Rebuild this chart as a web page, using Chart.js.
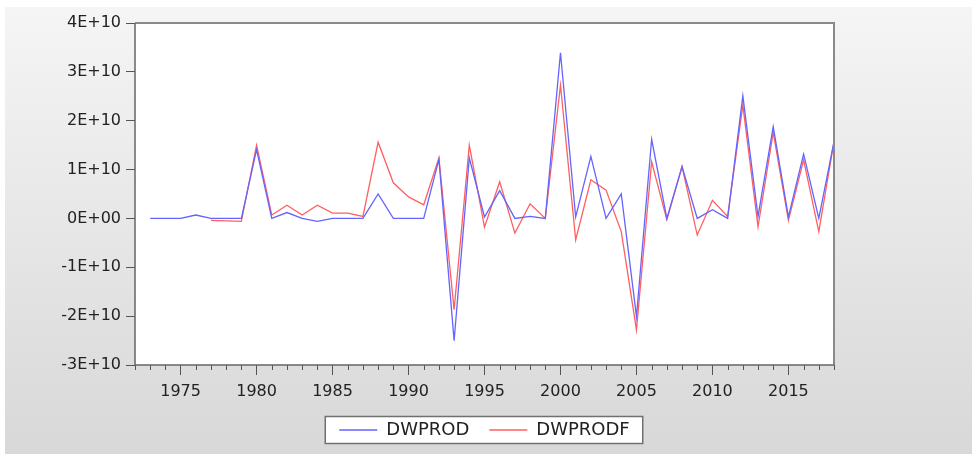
<!DOCTYPE html>
<html>
<head>
<meta charset="utf-8">
<title>DWPROD vs DWPRODF</title>
<script src="https://cdn.jsdelivr.net/npm/chart.js@4.4.1/dist/chart.umd.min.js"></script>
<style>
  html, body { margin: 0; padding: 0; background: #fff; }
  canvas { display: block; }
</style>
</head>
<body>
<canvas id="chart" width="972" height="454"></canvas>
<script>
// -------------------------------------------------------------
// Data (values in units of 1E+10)
// -------------------------------------------------------------
const years = [
  1973, 1974, 1975, 1976, 1977, 1978, 1979, 1980, 1981, 1982,
  1983, 1984, 1985, 1986, 1987, 1988, 1989, 1990, 1991, 1992,
  1993, 1994, 1995, 1996, 1997, 1998, 1999, 2000, 2001, 2002,
  2003, 2004, 2005, 2006, 2007, 2008, 2009, 2010, 2011, 2012,
  2013, 2014, 2015, 2016, 2017, 2018
];

const dwprod = [
  0, 0, 0, 0.07, 0, 0, 0, 1.41, 0, 0.12,
  0, -0.06, 0, 0, 0, 0.50, 0, 0, 0, 1.21,
  -2.50, 1.24, 0.03, 0.57, 0, 0.04, 0, 3.39, 0.03, 1.27,
  0, 0.50, -2.01, 1.62, 0, 1.06, 0, 0.18, 0, 2.51,
  0.04, 1.88, 0.03, 1.32, 0, 1.57
];

const dwprodf = [
  null, null, null, null, -0.04, -0.05, -0.06, 1.50, 0.07, 0.27,
  0.07, 0.27, 0.11, 0.11, 0.04, 1.56, 0.73, 0.44, 0.28, 1.24,
  -1.87, 1.50, -0.18, 0.75, -0.30, 0.30, 0, 2.73, -0.44, 0.79,
  0.58, -0.27, -2.28, 1.16, -0.03, 1.06, -0.34, 0.37, 0.04, 2.32,
  -0.17, 1.76, -0.04, 1.20, -0.27, 1.57
];

const xTickLabels = [1975, 1980, 1985, 1990, 1995, 2000, 2005, 2010, 2015];
const yTickValues = [-3, -2, -1, 0, 1, 2, 3, 4];
const yTickLabels = ['-3E+10', '-2E+10', '-1E+10', '0E+00', '1E+10', '2E+10', '3E+10', '4E+10'];

const toPoints = (values) => years
  .map((yr, i) => ({ x: yr, y: values[i] }))
  .filter((p) => p.y !== null);

const tickFont = { family: 'DejaVu Sans', size: 16 };

// -------------------------------------------------------------
// Background panel, plot frame, legend box, minor year ticks
// -------------------------------------------------------------
const framePlugin = {
  id: 'frame',
  beforeDraw(chart) {
    const { ctx, chartArea: a, width, height } = chart;
    ctx.save();
    ctx.fillStyle = '#ffffff';
    ctx.fillRect(0, 0, width, height);
    const g = ctx.createLinearGradient(0, 7, 0, height);
    g.addColorStop(0, '#f5f5f5');
    g.addColorStop(1, '#d8d8d8');
    ctx.fillStyle = g;
    ctx.fillRect(5, 7, width - 5, height - 7);

    ctx.fillStyle = '#ffffff';
    ctx.fillRect(a.left, a.top, a.right - a.left, a.bottom - a.top);

    const boxes = chart.legend && chart.legend.legendHitBoxes;
    if (boxes && boxes.length) {
      const first = boxes[0];
      const last = boxes[boxes.length - 1];
      const cy = first.top + first.height / 2;
      const l = first.left - 14;
      const r = last.left + last.width + 13;
      ctx.fillRect(l, cy - 13.5, r - l, 27);
      ctx.strokeStyle = '#707070';
      ctx.lineWidth = 1.5;
      ctx.strokeRect(l, cy - 13.5, r - l, 27);
    }
    ctx.restore();
  },
  afterDraw(chart) {
    const { ctx, chartArea: a } = chart;
    const xs = chart.scales.x;
    ctx.save();
    ctx.strokeStyle = '#555555';
    ctx.lineWidth = 1;
    xs.ticks.forEach((t) => {
      if (t.value % 5 === 0) return;
      const px = Math.round(xs.getPixelForValue(t.value)) + 0.5;
      ctx.beginPath();
      ctx.moveTo(px, a.bottom);
      ctx.lineTo(px, a.bottom + 5);
      ctx.stroke();
    });

    ctx.strokeStyle = '#8a8a8a';
    ctx.lineWidth = 2;
    ctx.beginPath();
    ctx.moveTo(a.left, a.top);
    ctx.lineTo(a.right, a.top);
    ctx.lineTo(a.right, a.bottom);
    ctx.stroke();

    ctx.strokeStyle = '#666666';
    ctx.lineWidth = 1.5;
    ctx.beginPath();
    ctx.moveTo(a.left, a.top);
    ctx.lineTo(a.left, a.bottom);
    ctx.lineTo(a.right, a.bottom);
    ctx.stroke();
    ctx.restore();
  }
};

new Chart(document.getElementById('chart'), {
  type: 'line',
  data: {
    datasets: [
      {
        label: 'DWPROD',
        data: toPoints(dwprod),
        borderColor: '#6464ff',
        backgroundColor: '#6464ff',
        borderWidth: 1.3,
        pointRadius: 0,
        tension: 0,
        fill: false
      },
      {
        label: 'DWPRODF',
        data: toPoints(dwprodf),
        borderColor: '#ff5f5f',
        backgroundColor: '#ff5f5f',
        borderWidth: 1.3,
        pointRadius: 0,
        tension: 0,
        fill: false
      }
    ]
  },
  options: {
    responsive: false,
    animation: false,
    layout: { padding: { top: 23, right: 138, left: 0, bottom: 5 } },
    plugins: {
      legend: {
        position: 'bottom',
        fullSize: false,
        labels: {
          usePointStyle: true,
          pointStyle: 'line',
          pointStyleWidth: 38,
          padding: 20,
          color: '#222222',
          font: { family: 'DejaVu Sans', size: 18 }
        }
      },
      tooltip: { enabled: false }
    },
    scales: {
      x: {
        type: 'linear',
        min: 1972,
        max: 2018,
        afterFit: (s) => { s.height = 36; },
        border: { display: false },
        grid: {
          drawOnChartArea: false,
          tickLength: 10,
          tickColor: (c) => (c.tick && c.tick.value % 5 === 0 ? '#555555' : 'rgba(0,0,0,0)')
        },
        ticks: {
          stepSize: 1,
          autoSkip: false,
          maxRotation: 0,
          padding: 7,
          color: '#222222',
          font: tickFont,
          callback: (v) => (xTickLabels.includes(v) ? String(v) : '')
        }
      },
      y: {
        min: -3,
        max: 4,
        afterFit: (s) => { s.width = 135; },
        border: { display: false },
        grid: { drawOnChartArea: false, tickLength: 9, tickColor: '#555555' },
        ticks: {
          stepSize: 1,
          padding: 5,
          color: '#222222',
          font: tickFont,
          callback: (v) => {
            const i = yTickValues.indexOf(v);
            return i >= 0 ? yTickLabels[i] : '';
          }
        }
      }
    }
  },
  plugins: [framePlugin]
});
</script>
</body>
</html>
